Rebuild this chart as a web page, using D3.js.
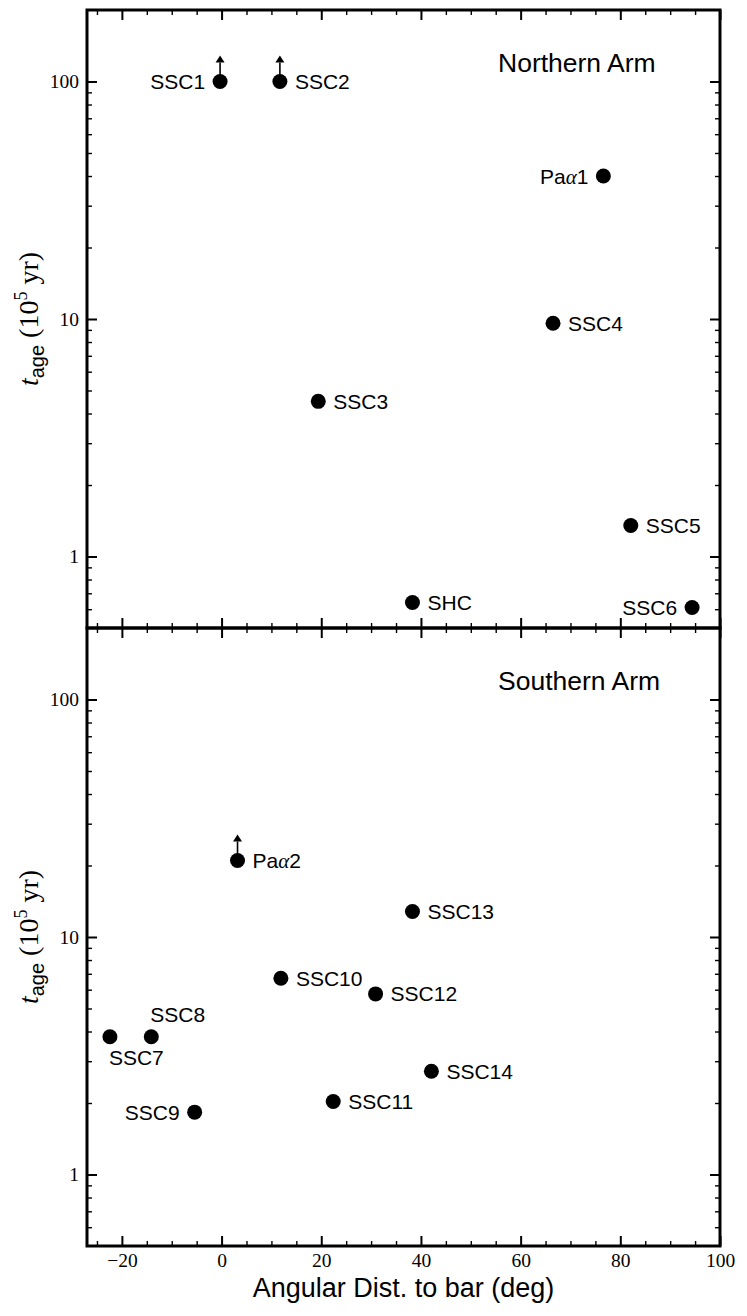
<!DOCTYPE html>
<html>
<head>
<meta charset="utf-8">
<script src="https://cdn.jsdelivr.net/npm/d3@7"></script>
<style>
  body { margin: 0; background: #fff; }
  svg { display: block; }
</style>
</head>
<body>
<div id="chart"></div>
<script>
// ---- data ----
const northNames = ["SSC1", "SSC2", "SSC3", "SHC", "SSC4", "Paα1", "SSC5", "SSC6"];
const northDist  = [-0.3, 11.7, 19.4, 38.3, 66.5, 76.6, 82.1, 94.4];
const northAge   = [100, 100, 4.5, 0.64, 9.6, 40, 1.35, 0.61];
const northLimit = [true, true, false, false, false, false, false, false];

const southNames = ["SSC7", "SSC8", "SSC9", "Paα2", "SSC10", "SSC11", "SSC12", "SSC13", "SSC14"];
const southDist  = [-22.4, -14.1, -5.4, 3.2, 11.9, 22.4, 30.9, 38.3, 42.1];
const southAge   = [3.8, 3.8, 1.83, 21, 6.7, 2.03, 5.76, 12.8, 2.72];
const southLimit = [false, false, false, true, false, false, false, false, false];

const xMajorTicks = [-20, 0, 20, 40, 60, 80, 100];
const yMajorTicks = [1, 10, 100];
const xDomain = [-27, 100];
const yDomain = [0.5, 200];

// where each label sits relative to its marker
const labelSide = {
  "SSC1": "left", "Paα1": "left", "SSC6": "left", "SSC9": "left",
  "SSC7": "below", "SSC8": "above"
};

// ---- layout ----
const width = 747, height = 1316;
const left = 87, right = 720;
const panels = [
  {title: "Northern Arm", top: 10, bottom: 628, names: northNames, dist: northDist, age: northAge, limit: northLimit, showX: false},
  {title: "Southern Arm", top: 628, bottom: 1246, names: southNames, dist: southDist, age: southAge, limit: southLimit, showX: true}
];

const sans = "'Liberation Sans', Arial, sans-serif";
const serif = "'Liberation Serif', 'Times New Roman', serif";

const svg = d3.select("#chart").append("svg")
  .attr("width", width)
  .attr("height", height)
  .attr("viewBox", `0 0 ${width} ${height}`);

const x = d3.scaleLinear().domain(xDomain).range([left, right]);

const xMinor = d3.range(-25, 101, 5).filter(v => !xMajorTicks.includes(v));
const yMinor = [];
[0.1, 1, 10].forEach(decade => {
  for (let k = 2; k <= 9; k++) {
    const v = +(k * decade).toFixed(2);
    if (v > yDomain[0] && v < yDomain[1]) yMinor.push(v);
  }
});

function styleAxis(g, major) {
  g.select(".domain").remove();
  g.selectAll(".tick line")
    .attr("stroke", "#000")
    .attr("stroke-width", major ? 2 : 1.4);
  g.selectAll(".tick text")
    .attr("fill", "#000")
    .attr("font-family", serif)
    .attr("font-size", 19.5);
}

function drawPanel(p) {
  const y = d3.scaleLog().domain(yDomain).range([p.bottom, p.top]);
  const g = svg.append("g");

  // x axes, bottom and top, ticks pointing inward
  g.append("g")
    .attr("transform", `translate(0,${p.bottom})`)
    .call(d3.axisBottom(x).tickValues(xMajorTicks).tickSize(-10).tickSizeOuter(0)
      .tickPadding(7).tickFormat(p.showX ? d3.format("d") : ""))
    .call(s => styleAxis(s, true));
  g.append("g")
    .attr("transform", `translate(0,${p.bottom})`)
    .call(d3.axisBottom(x).tickValues(xMinor).tickSize(-5).tickSizeOuter(0).tickFormat(""))
    .call(s => styleAxis(s, false));
  g.append("g")
    .attr("transform", `translate(0,${p.top})`)
    .call(d3.axisTop(x).tickValues(xMajorTicks).tickSize(-10).tickSizeOuter(0).tickFormat(""))
    .call(s => styleAxis(s, true));
  g.append("g")
    .attr("transform", `translate(0,${p.top})`)
    .call(d3.axisTop(x).tickValues(xMinor).tickSize(-5).tickSizeOuter(0).tickFormat(""))
    .call(s => styleAxis(s, false));

  // y axes, left and right
  g.append("g")
    .attr("transform", `translate(${left},0)`)
    .call(d3.axisLeft(y).tickValues(yMajorTicks).tickSize(-10).tickSizeOuter(0)
      .tickPadding(8).tickFormat(d3.format("d")))
    .call(s => styleAxis(s, true));
  g.append("g")
    .attr("transform", `translate(${left},0)`)
    .call(d3.axisLeft(y).tickValues(yMinor).tickSize(-5).tickSizeOuter(0).tickFormat(""))
    .call(s => styleAxis(s, false));
  g.append("g")
    .attr("transform", `translate(${right},0)`)
    .call(d3.axisRight(y).tickValues(yMajorTicks).tickSize(-10).tickSizeOuter(0).tickFormat(""))
    .call(s => styleAxis(s, true));
  g.append("g")
    .attr("transform", `translate(${right},0)`)
    .call(d3.axisRight(y).tickValues(yMinor).tickSize(-5).tickSizeOuter(0).tickFormat(""))
    .call(s => styleAxis(s, false));

  // frame
  g.append("rect")
    .attr("x", left).attr("y", p.top)
    .attr("width", right - left).attr("height", p.bottom - p.top)
    .attr("fill", "none").attr("stroke", "#000").attr("stroke-width", 3);

  // panel title
  g.append("text")
    .attr("x", 498).attr("y", p.top + 62)
    .attr("font-family", sans).attr("font-size", 26.5)
    .text(p.title);

  // y label
  const yl = g.append("text")
    .attr("transform", `translate(38,${(p.top + p.bottom) / 2}) rotate(-90)`)
    .attr("text-anchor", "middle")
    .attr("font-family", serif).attr("font-size", 28);
  yl.append("tspan").attr("font-style", "italic").text("t");
  yl.append("tspan").attr("font-family", sans).attr("font-size", 20).attr("dy", 6).text("age");
  yl.append("tspan").attr("dy", -6).text(" (10");
  yl.append("tspan").attr("font-size", 18).attr("dy", -11).text("5");
  yl.append("tspan").attr("dy", 11).text(" yr)");

  const pts = p.names.map((name, i) => ({name, dist: p.dist[i], age: p.age[i], limit: p.limit[i]}));

  // lower-limit arrows
  const lim = pts.filter(d => d.limit);
  g.selectAll(".arrow-line").data(lim).enter().append("line")
    .attr("x1", d => x(d.dist)).attr("x2", d => x(d.dist))
    .attr("y1", d => y(d.age)).attr("y2", d => y(d.age) - 19)
    .attr("stroke", "#000").attr("stroke-width", 1.6);
  g.selectAll(".arrow-head").data(lim).enter().append("path")
    .attr("d", d => {
      const cx = x(d.dist), cy = y(d.age);
      return `M${cx - 4.5},${cy - 19} L${cx + 4.5},${cy - 19} L${cx},${cy - 26} Z`;
    })
    .attr("fill", "#000");

  // markers
  g.selectAll("circle").data(pts).enter().append("circle")
    .attr("cx", d => x(d.dist)).attr("cy", d => y(d.age))
    .attr("r", 7.5).attr("fill", "#000");

  // labels
  const lab = g.selectAll(".label").data(pts).enter().append("text")
    .attr("font-family", sans).attr("font-size", 21)
    .attr("x", d => {
      const side = labelSide[d.name] || "right";
      if (side === "left") return x(d.dist) - 15;
      if (side === "right") return x(d.dist) + 15;
      return x(d.dist) - 1;
    })
    .attr("y", d => {
      const side = labelSide[d.name] || "right";
      if (side === "above") return y(d.age) - 22;
      if (side === "below") return y(d.age) + 21;
      return y(d.age);
    })
    .attr("dy", "0.36em")
    .attr("text-anchor", d => (labelSide[d.name] === "left") ? "end" : "start");
  lab.each(function (d) {
    const t = d3.select(this);
    if (d.name.startsWith("Pa")) {
      t.append("tspan").text("Pa");
      t.append("tspan").attr("font-family", serif).attr("font-style", "italic").text("α");
      t.append("tspan").text(d.name.slice(3));
    } else {
      t.text(d.name);
    }
  });
}

panels.forEach(drawPanel);

// x label
svg.append("text")
  .attr("x", (left + right) / 2).attr("y", 1297)
  .attr("text-anchor", "middle")
  .attr("font-family", sans).attr("font-size", 27)
  .text("Angular Dist. to bar (deg)");
</script>
</body>
</html>
